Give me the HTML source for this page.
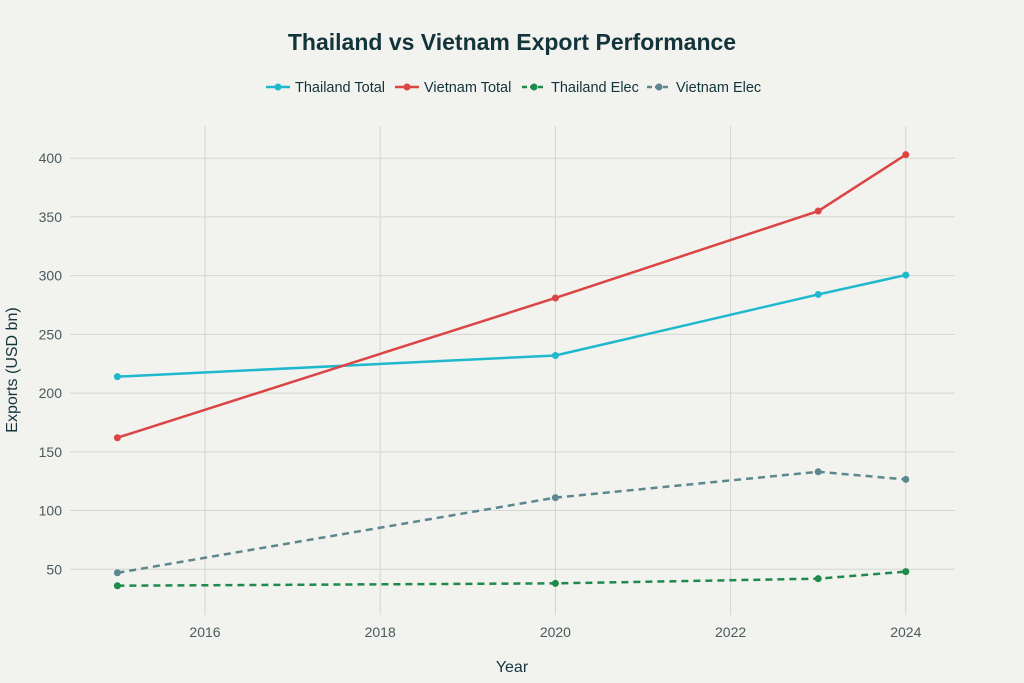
<!DOCTYPE html>
<html><head><meta charset="utf-8"><style>
html,body{margin:0;padding:0;width:1024px;height:683px;overflow:hidden;background:#f2f2ee;font-family:"Liberation Sans",sans-serif;}
svg{display:block;}
svg text{font-family:"Liberation Sans",sans-serif;}
</style></head><body>
<svg id="chart" width="1024" height="683" xmlns="http://www.w3.org/2000/svg">
<rect width="1024" height="683" fill="#f2f2ee"/>
<text x="512" y="50" text-anchor="middle" font-size="23" font-weight="bold" fill="#13343b">Thailand vs Vietnam Export Performance</text>
<g id="grid"></g><g id="series"></g><g id="legend"></g>
<text x="512" y="672" text-anchor="middle" font-size="16" fill="#13343b">Year</text>
<text transform="translate(17,370) rotate(-90)" text-anchor="middle" font-size="16" fill="#13343b">Exports (USD bn)</text>
</svg>
<script>
const years=[2015,2020,2023,2024];
const thailandTotal=[214,232,284,300.5];
const vietnamTotal=[162,281,355,403];
const thailandElec=[36,38,42,48];
const vietnamElec=[47,111,133,126.5];
const xTicks=[2016,2018,2020,2022,2024];
const yTicks=[50,100,150,200,250,300,350,400];
const NS="http://www.w3.org/2000/svg";
const X=v=>205+(v-2016)*87.6;
const Y=v=>628-(v*1.1745);
function mk(t,a,p){const e=document.createElementNS(NS,t);for(const k in a)e.setAttribute(k,a[k]);p.appendChild(e);return e;}
const g=document.getElementById('grid');
xTicks.forEach(t=>{
 const l=mk('line',{x1:X(t),x2:X(t),y1:126,y2:615,stroke:'#d4d4d0','stroke-width':1},g);
 
 
 const tx=mk('text',{x:X(t),y:637,'text-anchor':'middle','font-size':14,fill:'#4a5a5e'},g);tx.textContent=t;
 
 
});
yTicks.forEach(t=>{
 const l=mk('line',{x1:70,x2:955,y1:Y(t),y2:Y(t),stroke:'#d4d4d0','stroke-width':1},g);
 
 
 const tx=mk('text',{x:62,y:Y(t)+5,'text-anchor':'end','font-size':14,fill:'#4a5a5e'},g);tx.textContent=t;
 
 
});
const S=[["Thailand Total",thailandTotal,"#1fb8cd",""],["Vietnam Total",vietnamTotal,"#db4545",""],["Thailand Elec",thailandElec,"#1e8a4c","7,5"],["Vietnam Elec",vietnamElec,"#5d878f","7,5"]];
const sg=document.getElementById('series');
S.forEach(s=>{
 const p=mk('polyline',{points:years.map((y,i)=>X(y)+','+Y(s[1][i])).join(' '),fill:'none',stroke:s[2],'stroke-width':2.5,'stroke-dasharray':s[3]},sg);
 
 
 years.forEach((y,i)=>{const c=mk('circle',{cx:X(y),cy:Y(s[1][i]),r:3.5,fill:s[2]},sg);
 
 });
});
const lg=document.getElementById('legend');
const lx=[266,395,522,647];
S.forEach((s,i)=>{
 const l=mk('line',{x1:lx[i],x2:lx[i]+24,y1:87,y2:87,stroke:s[2],'stroke-width':2.5,'stroke-dasharray':s[3]?'5,3':''},lg);
 
 
 mk('circle',{cx:lx[i]+12,cy:87,r:3.5,fill:s[2]},lg);
 const t=mk('text',{x:lx[i]+29,y:92,'font-size':14.5,fill:'#13343b'},lg);t.textContent=s[0];
 
 
});
</script>
</body></html>
